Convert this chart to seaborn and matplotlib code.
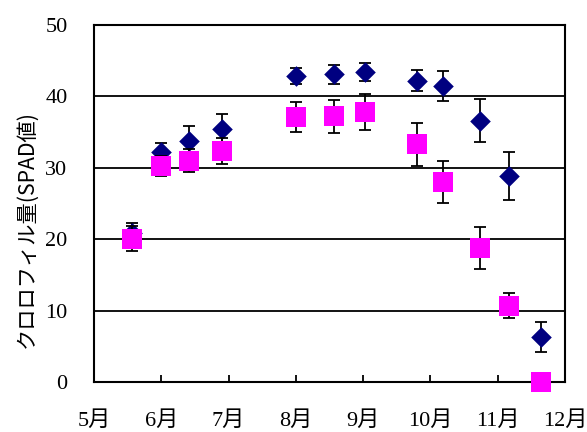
import numpy as np
import pandas as pd
import matplotlib
matplotlib.use("Agg")
import matplotlib.pyplot as plt
import seaborn as sns

# Sampling dates expressed as fractional months (5 = May 1st, 12 = Dec 1st)
months = [5.56, 6.0, 6.42, 6.91, 8.0, 8.57, 9.03, 9.80, 10.19, 10.74, 11.17, 11.65]

# SPAD readings (mean and standard deviation) for the two series
spad_a = [20.9, 32.2, 33.8, 35.5, 42.9, 43.1, 43.4, 42.2, 41.4, 36.6, 28.8, 6.3]
err_a = [1.4, 1.3, 2.0, 2.0, 1.1, 1.3, 1.3, 1.45, 2.1, 3.0, 3.35, 2.1]
spad_b = [20.1, 30.3, 31.0, 32.4, 37.1, 37.2, 37.8, 33.3, 28.0, 18.8, 10.7, 0.0]
err_b = [1.7, 1.4, 1.6, 1.8, 2.1, 2.3, 2.5, 3.0, 2.95, 2.95, 1.8, 0.0]

month_ticks = [5, 6, 7, 8, 9, 10, 11, 12]
month_labels = ["5月", "6月", "7月", "8月", "9月", "10月", "11月", "12月"]
y_ticks = [0, 10, 20, 30, 40, 50]

sns.set_theme(style="white")
plt.rcParams["font.family"] = ["Liberation Serif", "Noto Sans CJK JP", "DejaVu Sans"]

df_a = pd.DataFrame({"month": months, "spad": spad_a, "sd": err_a})
df_b = pd.DataFrame({"month": months, "spad": spad_b, "sd": err_b})

fig = plt.figure(figsize=(5.87, 4.32), dpi=100)
ax = fig.add_axes([0.160, 0.1157, 0.8025, 0.8264])

# horizontal reference lines
for v in [10, 20, 30, 40]:
    ax.axhline(v, color="black", lw=1.3, zorder=1)

navy = "#000080"
magenta = "#FF00FF"

ax.errorbar(df_a["month"], df_a["spad"], yerr=df_a["sd"], fmt="none",
            ecolor="black", elinewidth=1.3, capsize=4.5, capthick=1.3, zorder=2)
sns.scatterplot(data=df_a, x="month", y="spad", marker="D", s=110,
                color=navy, linewidth=0, ax=ax, zorder=3, legend=False)

mask = df_b["sd"] > 0
ax.errorbar(df_b.loc[mask, "month"], df_b.loc[mask, "spad"], yerr=df_b.loc[mask, "sd"],
            fmt="none", ecolor="black", elinewidth=1.3, capsize=4.5, capthick=1.3, zorder=4)
sns.scatterplot(data=df_b, x="month", y="spad", marker="s", s=190,
                color=magenta, linewidth=0, ax=ax, zorder=5, legend=False)

for coll in ax.collections:
    coll.set_clip_on(False)

ax.set_xlim(5, 12)
ax.set_ylim(0, 50)
ax.set_xticks(month_ticks)
ax.set_xticklabels(month_labels)
ax.set_yticks(y_ticks)
ax.set_yticklabels([str(v) for v in y_ticks])

ax.tick_params(axis="x", direction="in", length=5, width=1.3, color="black",
               pad=21, labelsize=16, labelcolor="black", bottom=True)
ax.tick_params(axis="y", length=0, pad=19, labelsize=16, labelcolor="black")
for lab in ax.get_xticklabels() + ax.get_yticklabels():
    lab.set_family(["Liberation Serif", "Noto Sans CJK JP"])

for sp in ax.spines.values():
    sp.set_color("black")
    sp.set_linewidth(1.5)

ax.set_xlabel("")
ax.set_ylabel("クロロフィル量(SPAD値)", fontsize=15.3, family=["Noto Sans CJK JP"],
              color="black", labelpad=2)
ax.yaxis.set_label_coords(-0.12, 0.43)

fig.savefig("out.png", dpi=100, facecolor="white")
